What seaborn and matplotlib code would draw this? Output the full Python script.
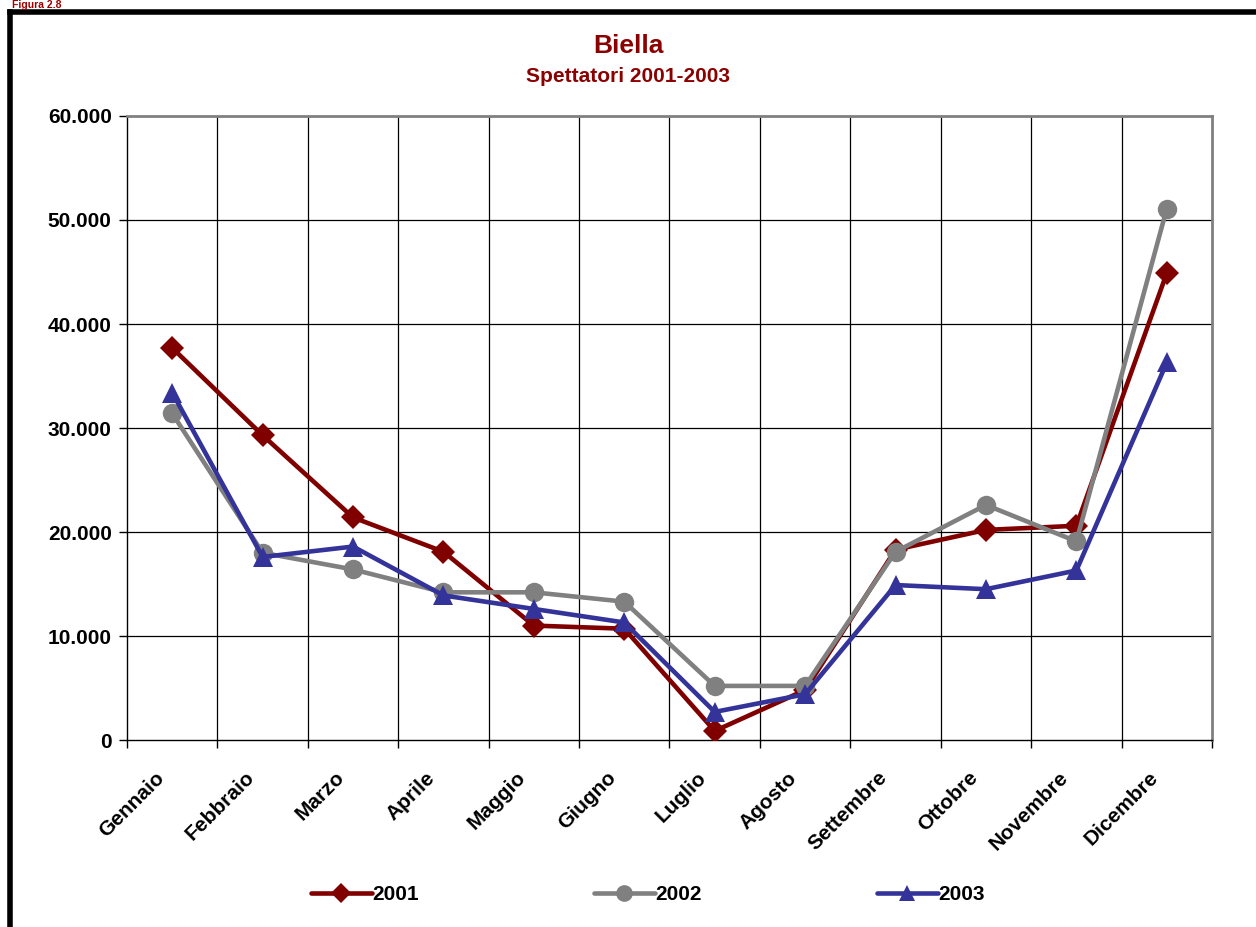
import numpy as np
import pandas as pd
import seaborn as sns
import matplotlib.pyplot as plt
from matplotlib.lines import Line2D
from matplotlib.ticker import FuncFormatter
from matplotlib.transforms import ScaledTranslation

# ─── Data ────────────────────────────────────────────────────────────────────
mesi = ["Gennaio", "Febbraio", "Marzo", "Aprile", "Maggio", "Giugno",
        "Luglio", "Agosto", "Settembre", "Ottobre", "Novembre", "Dicembre"]
anni = ["2001", "2002", "2003"]
v2001 = [37700, 29300, 21400, 18100, 11000, 10700, 870, 4800, 18300, 20200, 20600, 44900]
v2002 = [31400, 18000, 16400, 14200, 14200, 13300, 5200, 5200, 18100, 22600, 19100, 51100]
v2003 = [33400, 17600, 18600, 13900, 12600, 11300, 2700, 4400, 14900, 14500, 16300, 36300]

colori = ["#800000", "#808080", "#333399"]
marker = ["D", "o", "^"]
msize = [12, 14, 14]

df = pd.DataFrame({
    "idx": list(range(12)) * 3,
    "mese": mesi * 3,
    "anno": [a for a in anni for _ in range(12)],
    "valore": v2001 + v2002 + v2003,
})

# ─── Figure ──────────────────────────────────────────────────────────────────
sns.set_theme(style="white")
plt.rcParams["font.family"] = ["Liberation Sans", "DejaVu Sans"]
plt.rcParams["text.color"] = "black"
plt.rcParams["xtick.color"] = "black"
plt.rcParams["ytick.color"] = "black"

fig = plt.figure(figsize=(12.56, 9.27), dpi=100)
ax = fig.add_axes([127 / 1256, 1 - 740 / 927, (1212 - 127) / 1256, (740 - 116) / 927])

for i, anno in enumerate(anni):
    sub = df[df["anno"] == anno]
    sns.lineplot(data=sub, x="idx", y="valore", ax=ax, color=colori[i],
                 linewidth=3.3, marker=marker[i], markersize=msize[i],
                 markeredgewidth=0, legend=False, zorder=3 + i)

ax.set_xlim(-0.5, 11.5)
ax.set_ylim(0, 60000)
ax.set_yticks(np.arange(0, 60001, 10000))
ax.yaxis.set_major_formatter(FuncFormatter(lambda v, p: f"{int(v):,}".replace(",", ".")))
ax.set_xticks(np.arange(-0.5, 12, 1))
ax.set_xticklabels([])
for lbl in ax.get_yticklabels():
    lbl.set_fontsize(15)
    lbl.set_fontweight("bold")
ax.tick_params(axis="x", length=6, width=1, color="black", direction="out", bottom=True)
ax.tick_params(axis="y", length=6, width=1, color="black", direction="out", left=True, pad=5)
ax.set_xlabel("")
ax.set_ylabel("")

# month labels, rotated and anchored under each category
offset = ScaledTranslation(-18 / 100, -28 / 100, fig.dpi_scale_trans)
for i, m in enumerate(mesi):
    ax.text(i, 0, m, transform=ax.get_xaxis_transform() + offset,
            rotation=45, rotation_mode="anchor", ha="right", va="top",
            fontsize=15, fontweight="bold")

# grid lines
ax.grid(False)
for y in range(10000, 60000, 10000):
    ax.axhline(y, color="black", linewidth=0.9, zorder=1)
for x in np.arange(0.5, 11, 1):
    ax.axvline(x, color="black", linewidth=0.9, zorder=1)

for s in ["left", "bottom"]:
    ax.spines[s].set_color("black")
    ax.spines[s].set_linewidth(1)
for s in ["top", "right"]:
    ax.spines[s].set_color("#808080")
    ax.spines[s].set_linewidth(2)

# titles
fig.text(0.5, 1 - 46 / 927, "Biella", ha="center", va="center",
         fontsize=19, fontweight="bold", color="#8B0000")
fig.text(0.5, 1 - 77 / 927, "Spettatori 2001-2003", ha="center", va="center",
         fontsize=15, fontweight="bold", color="#8B0000")
fig.text(12 / 1256, 1.0, "Figura 2.8", ha="left", va="top",
         fontsize=7.5, fontweight="bold", color="#A00000")

# outer frame
fig.add_artist(Line2D([10 / 1256, 10 / 1256], [0, 1 - 12 / 927], color="black",
                      linewidth=4, transform=fig.transFigure, solid_capstyle="projecting"))
fig.add_artist(Line2D([10 / 1256, 1], [1 - 12 / 927, 1 - 12 / 927], color="black",
                      linewidth=4, transform=fig.transFigure, solid_capstyle="projecting"))

# legend
handles = [Line2D([], [], color=colori[i], linewidth=3.3, marker=marker[i],
                  markersize=msize[i] - 2, markeredgewidth=0) for i in range(3)]
leg = fig.legend(handles, anni, loc="center", bbox_to_anchor=(0.516, 1 - 895 / 927),
                 ncol=3, frameon=False, handlelength=2.9, handletextpad=0.05,
                 columnspacing=8.4, prop={"size": 15, "weight": "bold"})

fig.savefig("out.png", dpi=100)
